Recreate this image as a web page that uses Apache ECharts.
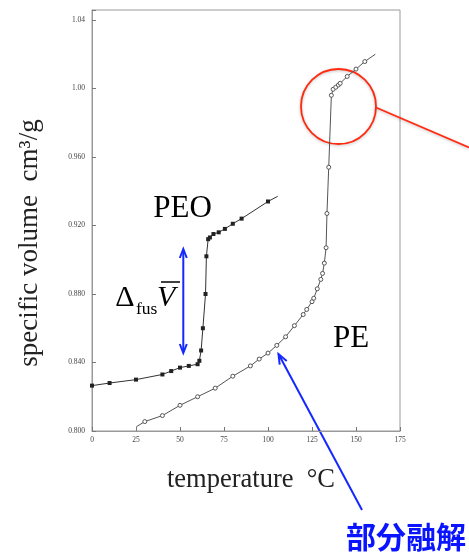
<!DOCTYPE html>
<html>
<head>
<meta charset="utf-8">
<script src="https://cdn.jsdelivr.net/npm/echarts@6/dist/echarts.min.js"></script>
<style>
  html, body { margin: 0; padding: 0; background: #fff; }
  #chart { width: 469px; height: 554px; }
</style>
</head>
<body>
<div id="chart"></div>
<script>
// PEO (filled squares) - last point is just the line tail
const peoTemp = [0, 10, 25, 40, 45, 50, 55, 60, 61, 62, 63, 64.5, 65, 66, 67, 69, 72, 75.5, 80, 85, 100, 105.5];
const peoVol = [0.8265, 0.828, 0.830, 0.833, 0.835, 0.837, 0.838, 0.839, 0.841, 0.847, 0.860, 0.880, 0.902, 0.912, 0.913, 0.915, 0.916, 0.918, 0.921, 0.924, 0.934, 0.937];

// PE (open circles) - first and last points are line tails
const peTemp = [25.2, 30, 40, 50, 60, 70, 80, 90, 95, 100, 105, 110, 115, 120, 122, 125, 126, 128, 130, 131, 132, 133, 133.5, 134.5, 136, 137, 138.5, 140, 141, 145, 150, 155, 161];
const peVol = [0.8025, 0.8055, 0.809, 0.815, 0.820, 0.825, 0.832, 0.838, 0.842, 0.8455, 0.850, 0.855, 0.8615, 0.868, 0.871, 0.8755, 0.8775, 0.883, 0.8885, 0.892, 0.898, 0.907, 0.927, 0.954, 0.996, 0.9995, 1.0007, 1.002, 1.003, 1.007, 1.0113, 1.0157, 1.020];

const xTickLabels = ['0', '25', '50', '75', '100', '125', '150', '175'];
const yTickLabels = ['0.800', '0.840', '0.880', '0.920', '0.960', '1.00', '1.04'];

const serif = '"Liberation Serif", "DejaVu Serif", serif';
const blue = '#1428ff';
const red = '#ff2a10';

function pts(xs, ys, tails) {
  return xs.map((x, i) => {
    const item = { value: [x, ys[i]] };
    if (tails.indexOf(i) >= 0) item.symbol = 'none';
    return item;
  });
}

// arrowhead wings for a line ending at (x2,y2)
function head(x1, y1, x2, y2, len, half) {
  const dx = x2 - x1, dy = y2 - y1;
  const d = Math.sqrt(dx * dx + dy * dy);
  const ux = dx / d, uy = dy / d;
  const bx = x2 - ux * len, by = y2 - uy * len;
  return [[bx - uy * half, by + ux * half], [x2, y2], [bx + uy * half, by - ux * half]];
}

const chart = echarts.init(document.getElementById('chart'));
const option = {
  animation: false,
  backgroundColor: '#fff',
  textStyle: { fontFamily: serif },
  grid: {
    left: 92, right: 69, top: 10, bottom: 123,
    show: true, borderColor: '#999', borderWidth: 1
  },
  xAxis: {
    type: 'value',
    min: 0, max: 175, interval: 25,
    axisLine: { lineStyle: { color: '#999' } },
    axisTick: { inside: true, length: 4, lineStyle: { color: '#777' } },
    splitLine: { show: false },
    axisLabel: {
      margin: 5, fontSize: 7.5, color: '#444', fontFamily: serif,
      formatter: v => {
        const i = Math.round(v / 25);
        return Math.abs(v - i * 25) < 1e-6 && xTickLabels[i] ? xTickLabels[i] : '';
      }
    }
  },
  yAxis: {
    type: 'value',
    min: 0.8, max: 1.0458, interval: 0.04,
    axisLine: { show: true, lineStyle: { color: '#999' } },
    axisTick: { show: true, inside: true, length: 4, lineStyle: { color: '#777' } },
    splitLine: { show: false },
    axisLabel: {
      margin: 7, fontSize: 7.5, color: '#444', fontFamily: serif,
      formatter: v => {
        const i = Math.round((v - 0.8) / 0.04);
        return Math.abs(v - (0.8 + i * 0.04)) < 1e-6 && yTickLabels[i] ? yTickLabels[i] : '';
      }
    }
  },
  series: [
    {
      name: 'PEO',
      type: 'line',
      data: pts(peoTemp, peoVol, [peoTemp.length - 1]),
      symbol: 'rect',
      symbolSize: 4,
      itemStyle: { color: '#222' },
      lineStyle: { color: '#333', width: 1 },
      z: 3
    },
    {
      name: 'PE',
      type: 'line',
      data: pts(peTemp, peVol, [0, peTemp.length - 1]),
      symbol: 'circle',
      symbolSize: 4,
      itemStyle: { color: '#fff', borderColor: '#555', borderWidth: 1 },
      lineStyle: { color: '#555', width: 1 },
      z: 2
    }
  ],
  graphic: [
    // axis titles
    {
      type: 'text', x: 30, y: 243, rotation: Math.PI / 2,
      style: { text: 'specific volume  cm³/g', font: '27px ' + serif, fill: '#222', align: 'center', verticalAlign: 'middle' }
    },
    {
      type: 'text', x: 251, y: 480,
      style: { text: 'temperature  °C', font: '26.5px ' + serif, fill: '#222', align: 'center', verticalAlign: 'middle' }
    },
    // labels
    {
      type: 'text', x: 182.5, y: 209,
      style: { text: 'PEO', font: '31px ' + serif, fill: '#000', align: 'center', verticalAlign: 'middle' }
    },
    {
      type: 'text', x: 351, y: 338.5,
      style: { text: 'PE', font: '31px ' + serif, fill: '#000', align: 'center', verticalAlign: 'middle' }
    },
    {
      type: 'text', x: 125, y: 298,
      style: { text: 'Δ', font: '30px ' + serif, fill: '#000', align: 'center', verticalAlign: 'middle' }
    },
    {
      type: 'text', x: 136, y: 309,
      style: { text: 'fus', font: '17.5px ' + serif, fill: '#000', align: 'left', verticalAlign: 'middle' }
    },
    {
      type: 'text', x: 157, y: 298,
      style: { text: 'V', font: 'italic 30px ' + serif, fill: '#000', align: 'left', verticalAlign: 'middle' }
    },
    {
      type: 'line', shape: { x1: 161, y1: 282, x2: 180, y2: 282 },
      style: { stroke: '#000', lineWidth: 1.5 }
    },
    // blue double arrow
    {
      type: 'line', shape: { x1: 183.3, y1: 250, x2: 183.3, y2: 352 },
      style: { stroke: blue, lineWidth: 2 }
    },
    {
      type: 'polyline', shape: { points: head(183.3, 300, 183.3, 249, 9, 3.5) },
      style: { stroke: blue, lineWidth: 2, fill: null }
    },
    {
      type: 'polyline', shape: { points: head(183.3, 300, 183.3, 353, 9, 3.5) },
      style: { stroke: blue, lineWidth: 2, fill: null }
    },
    // blue arrow to the curve
    {
      type: 'line', shape: { x1: 362, y1: 510, x2: 278.5, y2: 354 },
      style: { stroke: blue, lineWidth: 2 }
    },
    {
      type: 'polyline', shape: { points: head(362, 510, 278.5, 354, 10, 4) },
      style: { stroke: blue, lineWidth: 2, fill: null }
    },
    {
      type: 'text', x: 406, y: 537,
      style: { text: '部分融解', font: 'bold 30px "Noto Sans CJK JP", sans-serif', fill: '#0a14ff', align: 'center', verticalAlign: 'middle' }
    },
    // red circle and leader
    {
      type: 'circle', shape: { cx: 338.5, cy: 106.5, r: 37.5 },
      style: { stroke: red, lineWidth: 1.8, fill: null, shadowBlur: 3, shadowColor: 'rgba(0,0,0,0.25)', shadowOffsetY: 1 }
    },
    {
      type: 'line', shape: { x1: 376, y1: 107.5, x2: 469, y2: 147.5 },
      style: { stroke: red, lineWidth: 1.8, shadowBlur: 3, shadowColor: 'rgba(0,0,0,0.25)', shadowOffsetY: 1 }
    }
  ]
};
chart.setOption(option);
</script>
</body>
</html>
